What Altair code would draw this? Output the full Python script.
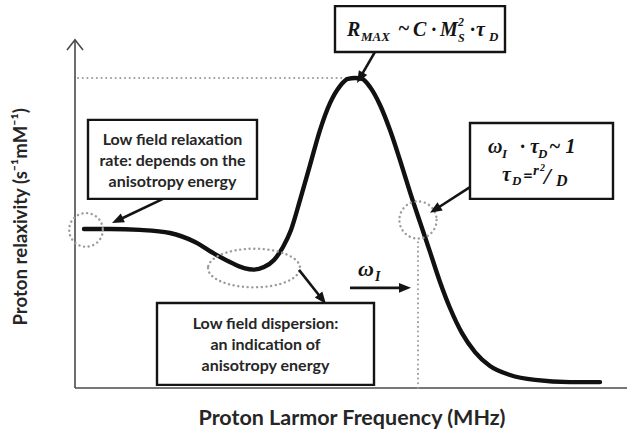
import math
import altair as alt
import pandas as pd

# ---------------------------------------------------------------------------
# Relaxivity profile, arbitrary units (frequency along x, relaxivity along y)
# ---------------------------------------------------------------------------
freq = [1.8, 7, 13, 19, 24, 28, 31.4, 33.8, 35.8, 37.8, 39.8, 41.6, 43.2, 45,
        47, 49, 51, 53, 54.6, 56, 57.4, 59, 61, 63, 65, 67, 69, 71, 73, 75, 77.4,
        80, 83, 87, 92, 99, 105]
relax = [51.3, 51.3, 51.0, 50.0, 47.1, 43.2, 40.3, 38.7, 38.2, 39.0, 41.3, 45.5,
         51.0, 60.6, 71.9, 83.2, 91.9, 97.4, 99.7, 100.0, 99.7, 97.1, 91.3, 83.2,
         73.5, 63.2, 53.5, 43.9, 34.2, 25.8, 17.7, 11.6, 7.1, 4.2, 2.6, 1.9, 1.9]

peak_relax = max(relax)
peak_freq = freq[relax.index(peak_relax)]
crossover_freq = 68.6          # where omega_I * tau_D ~ 1

# axis titles
x_title = "Proton Larmor Frequency (MHz)"
y_title = "Proton relaxivity (s\u207b\u00b9mM\u207b\u00b9)"

# annotation boxes: x, x2, y, y2
box_x = [52.0, 2.6, 79.0, 16.4]
box_x2 = [86.0, 36.4, 107.6, 59.8]
box_y = [123.2, 86.5, 85.5, 27.4]
box_y2 = [108.4, 61.0, 61.0, 1.0]

# box captions (centre x, line y, text)
caption_text = ["Low field relaxation", "rate: depends on the", "anisotropy energy",
                "Low field dispersion:", "an indication of", "anisotropy energy"]
caption_x = [19.5, 19.5, 19.5, 38.1, 38.1, 38.1]
caption_y = [80.0, 73.2, 66.5, 20.6, 13.9, 7.1]

# formula pieces: text, left x, baseline y, font size
math_text = ["R", "MAX", "~", "C \u00b7", "M", "2", "S", "\u00b7", "\u03c4", "D",
             "\u03c9", "I", "\u00b7 \u03c4", "D", "~ 1",
             "\u03c4", "D", "r", "2", "/", "D",
             "\u03c9", "I"]
math_x = [54.4, 57.2, 64.6, 67.6, 73.0, 76.6, 76.6, 79.0, 80.2, 82.8,
          82.6, 85.4, 89.0, 92.6, 94.8,
          85.4, 87.4, 91.6, 93.0, 93.8, 96.2,
          56.6, 60.0]
math_y = [113.5, 111.9, 114.0, 113.5, 113.5, 116.8, 111.6, 113.5, 113.5, 111.9,
          75.8, 74.2, 75.8, 74.2, 75.8,
          66.8, 65.5, 68.7, 69.9, 65.8, 65.3,
          36.1, 34.5]
math_size = [20, 13, 20, 20, 20, 12, 12, 20, 20, 13,
             20, 13, 20, 13, 20,
             20, 13, 15, 10, 24, 16,
             22, 14]

# arrows: start (x, y) -> tip (x, y)
arrow_x0 = [60.0, 17.6, 79.0, 44.8, 55.0]
arrow_y0 = [108.4, 61.0, 64.8, 38.1, 32.3]
arrow_x1 = [56.4, 7.4, 71.0, 50.2, 67.2]
arrow_y1 = [98.4, 53.2, 56.5, 27.1, 32.3]

# dotted markers around features: centre and radius (px)
ring_x = [2.2, 68.6]
ring_y = [51.0, 54.2]
ring_r = [19, 21]
dip_x, dip_y, dip_rx = 35.8, 38.7, 46

# ---------------------------------------------------------------------------
# Scales
# ---------------------------------------------------------------------------
W, H = 552, 388
X_DOMAIN = [0, 110.4]
Y_DOMAIN = [0, 125.16]
PX_X = W / (X_DOMAIN[1] - X_DOMAIN[0])
PX_Y = H / (Y_DOMAIN[1] - Y_DOMAIN[0])

xs = alt.Scale(domain=X_DOMAIN, nice=False, zero=False)
ys = alt.Scale(domain=Y_DOMAIN, nice=False, zero=False)


def X(f):
    return alt.X(f, type="quantitative", scale=xs, axis=None)


def Y(f):
    return alt.Y(f, type="quantitative", scale=ys, axis=None)


INK = "#141414"
TEXT = "#262626"
DOT = "#9c9c9c"
SANS = "Lato"
SERIF = "Liberation Serif"

# ---------------------------------------------------------------------------
# Axes (drawn as rules with an open arrowhead on the y axis)
# ---------------------------------------------------------------------------
y_top = 112.3
axis_df = pd.DataFrame({"x": [0, 0], "x2": [X_DOMAIN[1], 0], "y": [0, 0], "y2": [0, y_top]})
axes = alt.Chart(axis_df).mark_rule(color="#4a4a4a", strokeWidth=1.6).encode(
    x=X("x"), x2="x2", y=Y("y"), y2="y2")

chev_df = pd.DataFrame({"x": [-1.6, 0, 1.6], "y": [y_top - 3.3, y_top, y_top - 3.3], "o": [0, 1, 2]})
chevron = alt.Chart(chev_df).mark_line(color="#4a4a4a", strokeWidth=1.6).encode(
    x=X("x"), y=Y("y"), order="o:O")

# ---------------------------------------------------------------------------
# Dotted guide lines
# ---------------------------------------------------------------------------
guide_df = pd.DataFrame({
    "x": [0.6, crossover_freq], "x2": [peak_freq - 1.2, crossover_freq],
    "y": [peak_relax, 0], "y2": [peak_relax, 47.7]})
guides = alt.Chart(guide_df).mark_rule(
    color=DOT, strokeWidth=2, strokeDash=[0.1, 4.6], strokeCap="round").encode(
    x=X("x"), x2="x2", y=Y("y"), y2="y2")

# ---------------------------------------------------------------------------
# Relaxivity curve
# ---------------------------------------------------------------------------
curve = alt.Chart(pd.DataFrame({"f": freq, "r": relax})).mark_line(
    interpolate="monotone", color="#111111", strokeWidth=4.4, strokeCap="round").encode(
    x=X("f"), y=Y("r"))

# ---------------------------------------------------------------------------
# Dotted rings and ellipse
# ---------------------------------------------------------------------------
ring_df = pd.DataFrame({"x": ring_x, "y": ring_y,
                        "s": [math.pi * r * r for r in ring_r]})
rings = alt.Chart(ring_df).mark_point(
    shape="circle", filled=False, color=DOT, strokeWidth=2.4, opacity=1,
    strokeDash=[0.1, 4.6], strokeCap="round").encode(
    x=X("x"), y=Y("y"), size=alt.Size("s:Q", scale=None))

ELLIPSE = "M-1,0 A1,0.42 0 1,0 1,0 A1,0.42 0 1,0 -1,0 Z"
ellipse = alt.Chart(pd.DataFrame({"x": [dip_x], "y": [dip_y], "s": [(2 * dip_rx) ** 2]})).mark_point(
    shape=ELLIPSE, filled=False, color=DOT, strokeWidth=2.4, opacity=1,
    strokeDash=[0.1, 4.6], strokeCap="round").encode(
    x=X("x"), y=Y("y"), size=alt.Size("s:Q", scale=None))

# ---------------------------------------------------------------------------
# Annotation boxes
# ---------------------------------------------------------------------------
boxes = alt.Chart(pd.DataFrame({"x": box_x, "x2": box_x2, "y": box_y, "y2": box_y2})).mark_rect(
    fill="white", stroke=INK, strokeWidth=2.4).encode(
    x=X("x"), x2="x2", y=Y("y"), y2="y2")

# ---------------------------------------------------------------------------
# Arrows: shaft stops short of the tip, filled head rotated along the shaft
# ---------------------------------------------------------------------------
HEAD_PX = 12
rows = []
for x0, y0, x1, y1 in zip(arrow_x0, arrow_y0, arrow_x1, arrow_y1):
    dxp = (x1 - x0) * PX_X
    dyp = -(y1 - y0) * PX_Y
    length = math.hypot(dxp, dyp)
    ux, uy = dxp / length, dyp / length
    back = HEAD_PX * 0.75
    ex = x1 - ux * back / PX_X
    ey = y1 + uy * back / PX_Y
    ang = math.degrees(math.atan2(dxp, -dyp)) % 360
    rows.append({"x0": x0, "y0": y0, "ex": ex, "ey": ey, "x1": x1, "y1": y1, "ang": ang})
arrow_df = pd.DataFrame(rows)

shafts = alt.Chart(arrow_df).mark_rule(color=INK, strokeWidth=2.6).encode(
    x=X("x0"), y=Y("y0"), x2="ex", y2="ey")

HEAD = "M0,0 L0.8,2 L-0.8,2 Z"
heads = alt.Chart(arrow_df).mark_point(
    shape=HEAD, filled=True, color=INK, opacity=1, size=HEAD_PX ** 2).encode(
    x=X("x1"), y=Y("y1"), angle=alt.Angle("ang:Q", scale=None))

# ---------------------------------------------------------------------------
# Text
# ---------------------------------------------------------------------------
captions = alt.Chart(pd.DataFrame({"t": caption_text, "x": caption_x, "y": caption_y})).mark_text(
    font=SANS, fontWeight="bold", fontSize=16, color=TEXT, align="center", baseline="middle").encode(
    x=X("x"), y=Y("y"), text="t:N")

formulas = alt.Chart(pd.DataFrame({"t": math_text, "x": math_x, "y": math_y, "s": math_size})).mark_text(
    font=SERIF, fontWeight="bold", fontStyle="italic", color=INK, align="left",
    baseline="alphabetic").encode(
    x=X("x"), y=Y("y"), text="t:N", size=alt.Size("s:Q", scale=None))

equals = alt.Chart(pd.DataFrame({"t": ["="], "x": [89.6], "y": [66.8]})).mark_text(
    font=SANS, fontWeight="bold", fontSize=17, color=INK, align="left", baseline="alphabetic").encode(
    x=X("x"), y=Y("y"), text="t:N")

x_lab = alt.Chart(pd.DataFrame({"t": [x_title], "x": [55.4], "y": [-9.9]})).mark_text(
    font=SANS, fontWeight="bold", fontSize=21.5, color=TEXT, align="center", baseline="middle").encode(
    x=X("x"), y=Y("y"), text="t:N")

y_lab = alt.Chart(pd.DataFrame({"t": [y_title], "x": [-10.8], "y": [55.2]})).mark_text(
    font=SANS, fontWeight="bold", fontSize=18.6, color=TEXT, align="center", baseline="middle",
    angle=270).encode(
    x=X("x"), y=Y("y"), text="t:N")

chart = alt.layer(
    axes, chevron, guides, curve, rings, ellipse, boxes, shafts, heads,
    captions, formulas, equals, x_lab, y_lab
).properties(
    width=W, height=H, autosize="none",
    padding={"left": 75, "top": 0, "right": 0, "bottom": 46},
    background="white",
).configure_view(stroke=None)

chart.save("out.html", embed_options={"renderer": "svg", "actions": False})
